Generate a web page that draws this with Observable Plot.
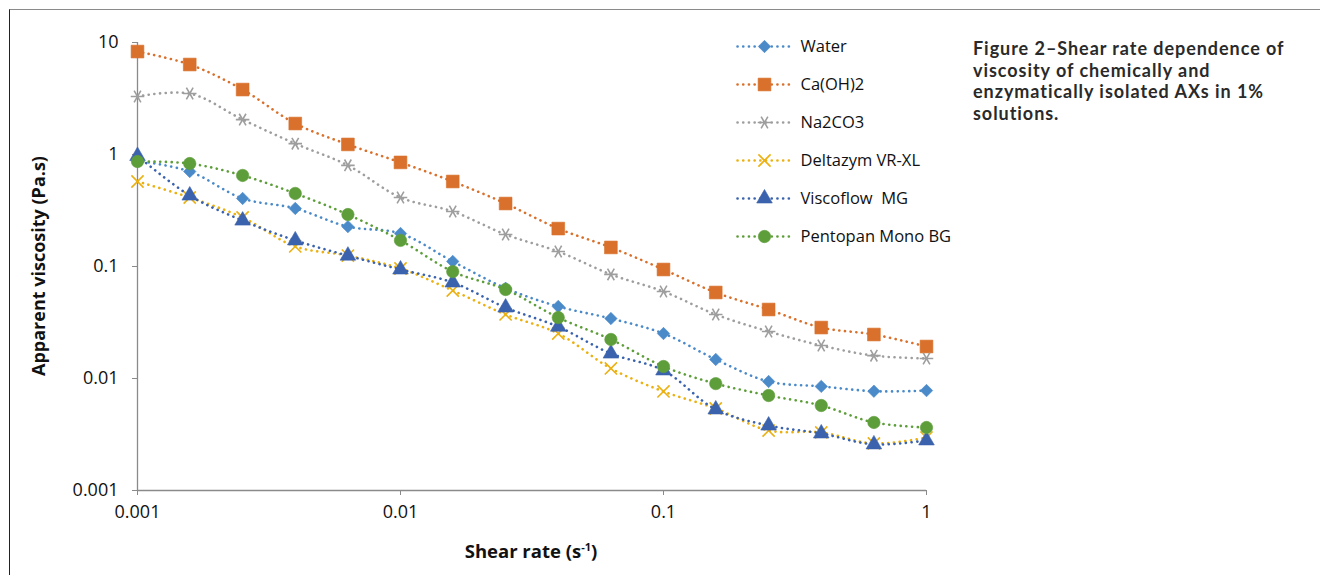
<!DOCTYPE html>
<html>
<head>
<meta charset="utf-8">
<script src="https://cdn.jsdelivr.net/npm/d3@7"></script>
<script src="https://cdn.jsdelivr.net/npm/@observablehq/plot@0.6"></script>
<style>
  html, body { margin: 0; padding: 0; background: #fff; }
  #wrap { position: relative; width: 1320px; height: 575px; overflow: hidden; font-family: "Open Sans", sans-serif; }
  #frame { position: absolute; left: 9px; top: 9px; width: 1400px; height: 700px; border-top: 1.5px solid #8a8a8a; border-left: 1.5px solid #222; }
  #chart, #legend { position: absolute; left: 0; top: 0; }
  #legend { left: 730px; top: 30px; }
  .ytitle { position: absolute; left: 38px; top: 266px; transform: translate(-50%, -50%) rotate(-90deg); white-space: nowrap; font-weight: 700; font-size: 18px; color: #111; }
  .xtitle { position: absolute; left: 531px; top: 550px; transform: translate(-50%, -50%); white-space: nowrap; font-weight: 700; font-size: 18.5px; color: #111; }
  .xtitle sup { font-size: 11px; vertical-align: 7px; line-height: 0; }
  #caption { position: absolute; left: 973px; top: 38px; width: 345px; font-family: Lato, sans-serif; font-weight: 700; font-size: 18px; letter-spacing: 0.95px; line-height: 21.7px; color: #2a2a2a; white-space: nowrap; }
</style>
</head>
<body>
<div id="wrap">
  <div id="frame"></div>
  <div id="chart"></div>
  <div id="legend"></div>
  <div class="ytitle">Apparent viscosity (Pa.s)</div>
  <div class="xtitle">Shear rate (s<sup>-1</sup>)</div>
  <div id="caption">Figure 2–Shear rate dependence of<br>viscosity of chemically and<br>enzymatically isolated AXs in 1%<br>solutions.</div>
</div>
<script>
const shearRate = [0.001, 0.00158, 0.00251, 0.00398, 0.00631, 0.01, 0.0158, 0.0251, 0.0398, 0.0631, 0.1, 0.158, 0.251, 0.398, 0.631, 1];

const seriesNames = ["Water", "Ca(OH)2", "Na2CO3", "Deltazym VR-XL", "Viscoflow  MG", "Pentopan Mono BG"];

const water    = [0.88, 0.705, 0.405, 0.33, 0.227, 0.197, 0.111, 0.064, 0.044, 0.0343, 0.0252, 0.0148, 0.0094, 0.0085, 0.0077, 0.0078];
const caoh2    = [8.3, 6.36, 3.8, 1.89, 1.23, 0.85, 0.574, 0.365, 0.218, 0.148, 0.094, 0.0586, 0.0413, 0.0285, 0.0247, 0.0193];
const na2co3   = [3.3, 3.5, 2.05, 1.25, 0.80, 0.413, 0.31, 0.193, 0.136, 0.085, 0.0598, 0.0373, 0.0263, 0.0197, 0.016, 0.0151];
const deltazym = [0.574, 0.413, 0.274, 0.151, 0.125, 0.096, 0.061, 0.0373, 0.0252, 0.0123, 0.00766, 0.0054, 0.00343, 0.0033, 0.00263, 0.00297];
const viscoflow= [0.97, 0.43, 0.257, 0.171, 0.125, 0.094, 0.072, 0.043, 0.029, 0.0167, 0.0118, 0.00529, 0.0038, 0.00323, 0.00258, 0.0028];
const pentopan = [0.866, 0.83, 0.65, 0.449, 0.291, 0.171, 0.090, 0.0623, 0.035, 0.0223, 0.0128, 0.009, 0.00705, 0.00574, 0.00405, 0.00365];

const xTicks = [0.001, 0.01, 0.1, 1];
const yTicks = [0.001, 0.01, 0.1, 1, 10];
const xTickLabels = ["0.001", "0.01", "0.1", "1"];
const yTickLabels = ["0.001", "0.01", "0.1", "1", "10"];

const seriesValues = [water, caoh2, na2co3, deltazym, viscoflow, pentopan];
const colors  = ["#4a8ac9", "#d9702c", "#9e9e9e", "#ebb012", "#3a62ad", "#5e9e3a"];
const symbols = ["diamond2", "square", "asterisk", "times", "triangle", "circle"];
const radii   = [5.6, 7.2, 6.4, 5.6, 5.8, 6.2];
const filled  = [true, true, false, false, true, true];
const rotations = [0, 0, 90, 0, 0, 0];

const series = seriesNames.map((name, i) => ({
  name, color: colors[i], symbol: symbols[i], r: radii[i], filled: filled[i], rotate: rotations[i],
  data: shearRate.map((x, j) => ({x, y: seriesValues[i][j]}))
}));

const lineStyle = {strokeWidth: 2.6, strokeDasharray: "0.1 5.6", strokeLinecap: "round"};

function dotMark(s, data, x, y) {
  return Plot.dot(data, {
    x, y, symbol: () => s.symbol, r: s.r, rotate: s.rotate,
    fill: s.filled ? s.color : "none",
    stroke: s.color,
    strokeWidth: s.filled ? 0.6 : 1.6
  });
}

const fmtX = d => xTickLabels[xTicks.findIndex(t => Math.abs(t - d) < t * 1e-6)];
const fmtY = d => yTickLabels[yTicks.findIndex(t => Math.abs(t - d) < t * 1e-6)];

const marks = [
  Plot.ruleX([0.001], {stroke: "#8a8a8a", strokeWidth: 1.3}),
  Plot.ruleY([0.001], {stroke: "#8a8a8a", strokeWidth: 1.3}),
  Plot.axisX({ticks: xTicks, tickFormat: fmtX, tickSize: 5, tickPadding: 10, stroke: "#8a8a8a", color: "#111", fontSize: 18, label: null}),
  Plot.axisY({ticks: yTicks, tickFormat: fmtY, tickSize: 5, tickPadding: 14, stroke: "#8a8a8a", color: "#111", fontSize: 18, label: null})
];
for (const s of series) {
  marks.push(Plot.line(s.data, {x: "x", y: "y", stroke: s.color, curve: "catmull-rom", ...lineStyle}));
  marks.push(dotMark(s, s.data, "x", "y"));
}

const chart = Plot.plot({
  width: 1320, height: 575,
  marginLeft: 137, marginRight: 394, marginTop: 42, marginBottom: 85,
  style: {fontFamily: "Open Sans, sans-serif", background: "transparent", overflow: "visible", color: "#111"},
  x: {type: "log", domain: [0.001, 1]},
  y: {type: "log", domain: [0.001, 10]},
  symbol: {type: "identity"},
  marks
});
document.getElementById("chart").appendChild(chart);

// Legend drawn with Plot
const legendMarks = [];
for (const s of series) {
  legendMarks.push(Plot.line([{x: 0, n: s.name}, {x: 1, n: s.name}], {x: "x", y: "n", stroke: s.color, ...lineStyle}));
  legendMarks.push(dotMark(s, [{x: 0.5, n: s.name}], "x", "n"));
}
legendMarks.push(Plot.text(series, {x: () => 1, y: "name", text: "name", textAnchor: "start", dx: 9, fontSize: 16.5, fill: "#111"}));

const legend = Plot.plot({
  width: 260, height: 240,
  margin: 0,
  style: {fontFamily: "Open Sans, sans-serif", background: "transparent", overflow: "visible"},
  x: {domain: [0, 1], range: [7, 61], axis: null},
  y: {type: "point", domain: seriesNames, range: [16, 206], padding: 0, axis: null},
  symbol: {type: "identity"},
  marks: legendMarks
});
document.getElementById("legend").appendChild(legend);
</script>
</body>
</html>
